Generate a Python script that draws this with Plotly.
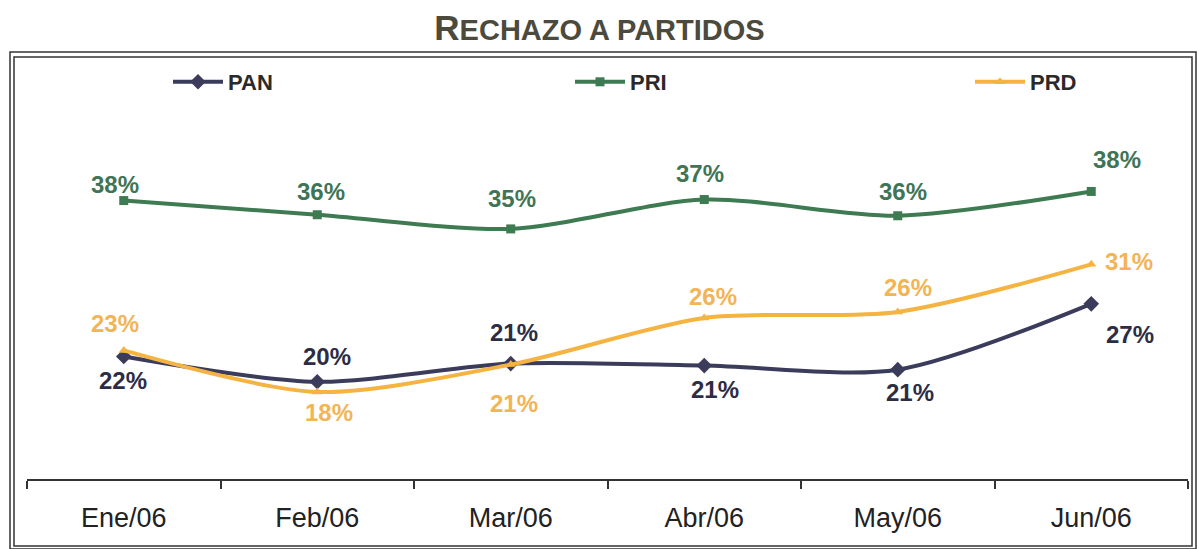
import plotly.graph_objects as go

# data
meses = ["Ene/06", "Feb/06", "Mar/06", "Abr/06", "May/06", "Jun/06"]

pan = [22.1, 19.6, 21.4, 21.2, 20.8, 27.3]
pri = [37.5, 36.1, 34.7, 37.6, 36.0, 38.4]
prd = [22.7, 18.6, 21.3, 25.9, 26.5, 31.2]

pan_txt = ["22%", "20%", "21%", "21%", "21%", "27%"]
pri_txt = ["38%", "36%", "35%", "37%", "36%", "38%"]
prd_txt = ["23%", "18%", "21%", "26%", "26%", "31%"]

# label offsets in px (dx, dy up)
pan_off = [(-1, -24), (10, 25), (3, 31), (11, -24), (12, -23), (39, -31)]
pri_off = [(-9, 16), (4, 23), (1, 30), (-4, 26), (5, 24), (26, 32)]
prd_off = [(-9, 27), (12, -21), (3, -39), (9, 22), (10, 24), (38, 3)]

FONT = "Liberation Sans, Arial, sans-serif"


# plot area in px: x 27..1188, y 74..479
def px(x):
    return (x - 27) / 1161


def py(y):
    return (479 - y) / 405


series = [
    ("PAN", pan, pan_txt, pan_off, "#3b3b5c", "#2c2c44", dict(symbol="diamond", size=12), "legend", 168),
    ("PRI", pri, pri_txt, pri_off, "#3e7b52", "#3f7556", dict(symbol="square", size=9), "legend2", 570),
    ("PRD", prd, prd_txt, prd_off, "#f5b342", "#f2b455", dict(symbol="triangle-up", size=9), "legend3", 970),
]

fig = go.Figure()
annotations = []
legends = {}
for name, vals, txt, off, col, tcol, mk, leg, lx in series:
    fig.add_trace(go.Scatter(x=meses, y=vals, name=f"<b>{name}</b>", mode="lines+markers",
                             legend=leg, showlegend=True,
                             line=dict(color=col, width=4, shape="spline", smoothing=0.8),
                             marker=dict(color=col, **mk)))
    for m, v, t, (dx, dy) in zip(meses, vals, txt, off):
        annotations.append(dict(x=m, y=v, text=f"<b>{t}</b>", showarrow=False,
                                xshift=dx, yshift=dy,
                                font=dict(family=FONT, size=24, color=tcol)))
    legends[leg] = dict(orientation="h", x=px(lx), xanchor="left", y=py(82), yanchor="middle",
                        font=dict(family=FONT, size=22, color="#2a2a2a"),
                        bgcolor="rgba(0,0,0,0)", itemwidth=50, visible=True)

shapes = []
for x0, y0, x1, y1 in [(10, 52, 1196, 549), (14, 57, 1192, 546)]:
    shapes.append(dict(type="rect", xref="paper", yref="paper",
                       x0=px(x0), x1=px(x1), y0=py(y1), y1=py(y0),
                       line=dict(color="#333333", width=1.5), layer="below"))

fig.update_layout(
    width=1199, height=549, autosize=False, showlegend=True,
    margin=dict(l=27, r=11, t=74, b=70),
    paper_bgcolor="white", plot_bgcolor="white",
    title=dict(text="<b>R<span style='font-size:29px'>ECHAZO A PARTIDOS</span></b>",
               x=0.5, xanchor="center", y=1 - 28 / 549, yanchor="middle", yref="container",
               font=dict(family=FONT, size=35, color="#4b4a3c")),
    annotations=annotations,
    shapes=shapes,
    **legends,
)
fig.update_xaxes(showgrid=False, showline=True, linecolor="#333333", linewidth=1.5,
                 ticks="outside", tickson="boundaries", ticklen=8, tickcolor="#333333",
                 tickwidth=1.5, ticklabelstandoff=14,
                 tickfont=dict(family=FONT, size=27, color="#222222"),
                 range=[-0.5, 5.5], zeroline=False)
fig.update_yaxes(visible=False, range=[10, 50], showgrid=False)

fig.write_html("out.html", config={"displayModeBar": False},
               post_script="document.body.style.margin='0';")
